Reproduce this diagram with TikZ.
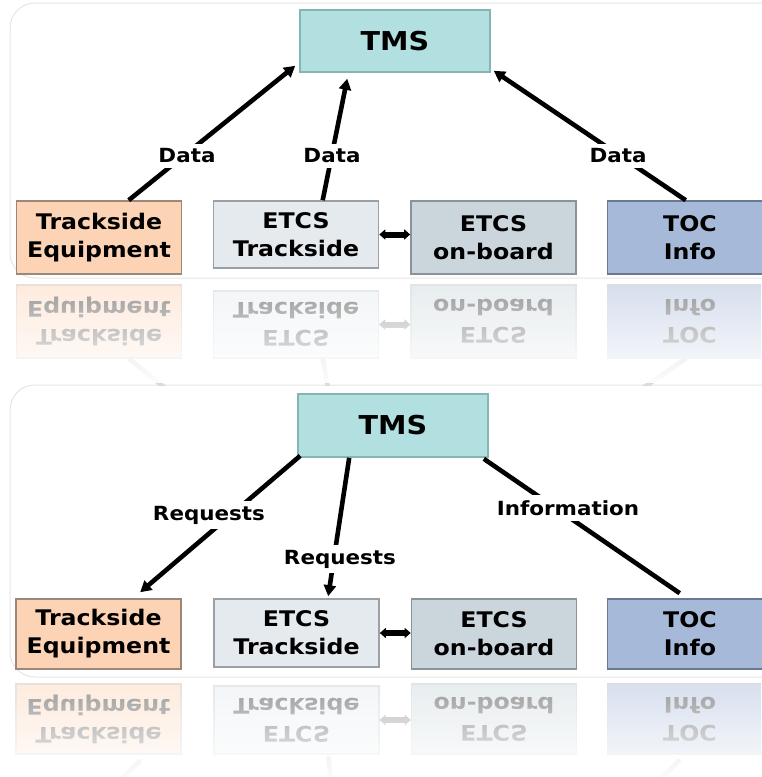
\documentclass[tikz,border=0pt]{standalone}
\usepackage{fontspec}
\newfontfamily\dvfont[FakeStretch=1.1]{DejaVu Sans}
\usetikzlibrary{arrows.meta,calc}
\definecolor{tmsfill}{HTML}{B2E0E0}
\definecolor{tmsdraw}{HTML}{86B5B5}
\definecolor{tefill}{HTML}{FCD3B4}
\definecolor{tedraw}{HTML}{9C8878}
\definecolor{etfill}{HTML}{E5EAEF}
\definecolor{etdraw}{HTML}{9AA0A5}
\definecolor{obfill}{HTML}{CBD6DC}
\definecolor{obdraw}{HTML}{8A9398}
\definecolor{tocfill}{HTML}{A6B9D9}
\definecolor{tocdraw}{HTML}{6C7890}
\definecolor{panelline}{HTML}{E6E6E6}
\begin{document}
\begin{tikzpicture}[x=1pt,y=-1pt,
  box/.style={draw, line width=1.6pt, inner sep=0pt, align=center,
    font=\dvfont\bfseries\fontsize{21.5}{28}\selectfont,
    minimum width=165pt, minimum height=73pt},
  tmsbox/.style={box, fill=tmsfill, draw=tmsdraw, minimum width=190pt, minimum height=62pt,
    font=\dvfont\bfseries\fontsize{26}{28}\selectfont},
  rbox/.style={box, yscale=-1, text=black!40, line width=1.2pt},
  lab/.style={fill=white, inner sep=5pt, font=\dvfont\bfseries\fontsize{19.5}{22}\selectfont},
  conn/.style={line width=4.6pt},
  rconn/.style={line width=4.6pt, draw=black!14},
  tip/.style={-{Triangle[length=11pt,width=12pt]}},
  dbl/.style={line width=6pt, {Triangle[length=6pt,width=10pt]}-{Triangle[length=6pt,width=10pt]}},
  rdbl/.style={dbl, draw=black!25, fill=black!25},
  panel/.style={draw=panelline, line width=1pt, fill=white, rounded corners=25pt}
]
\useasboundingbox (0,0) rectangle (761,777);
\fill[white] (0,0) rectangle (761,777);

% ---------------- panels
\path[panel] (10,3) rectangle (800,278);
\path[panel] (10,385) rectangle (800,677);

% ---------------- top panel
\node[tmsbox] (tms1) at (395,41) {TMS};
\node[box, fill=tefill, draw=tedraw] (te1) at (99,237.5) {Trackside\\Equipment};
\node[box, fill=etfill, draw=etdraw, minimum height=67pt] (et1) at (296,234.5) {ETCS\\Trackside};
\node[box, fill=obfill, draw=obdraw] (ob1) at (493.5,237.5) {ETCS\\on-board};
\node[box, fill=tocfill, draw=tocdraw] (toc1) at (690,237.5) {TOC\\Info};

\draw[conn,tip] ($(te1.north west)+(113,0)$) -- ($(tms1.south west)+(-4,-7)$);
\draw[conn,tip] ($(et1.north west)+(110,0)$) -- ($(tms1.south west)+(48,6)$);
\draw[conn,tip] ($(toc1.north west)+(79,0)$) -- ($(tms1.south east)+(3,-2)$);
\draw[dbl] (et1.east) -- (et1.east -| ob1.west);
\node[lab] (d1) at (187,156) {Data};
\node[lab] (d2) at (332,156) {Data};
\node[lab] (d3) at (618,156) {Data};

% ---------------- top reflection (axis y = 279.5)
\begin{scope}
\clip (0,281) rectangle (761,385);
\node[rbox, fill=tefill!45, draw=tedraw!25] (rte1) at (99,321.5) {Trackside\\Equipment};
\node[rbox, fill=etfill!45, draw=etdraw!25, minimum height=67pt] (ret1) at (296,324.5) {ETCS\\Trackside};
\node[rbox, fill=obfill!45, draw=obdraw!25] (rob1) at (493.5,321.5) {ETCS\\on-board};
\node[rbox, fill=tocfill!45, draw=tocdraw!25] (rtoc1) at (690,321.5) {TOC\\Info};
\draw[rdbl] (ret1.east) -- (ret1.east -| rob1.west);
\draw[rconn] ($(rte1.north west)+(113,0)$) -- ($(rte1.north west)+(166,43)$);
\draw[rconn] ($(ret1.north west)+(110,0)$) -- ($(ret1.north west)+(116,35)$);
\draw[rconn] ($(rtoc1.north west)+(79,0)$) -- ($(rtoc1.north west)+(28,35)$);
\end{scope}
\foreach \i in {0,...,49}
  \fill[white, opacity={min(1,\i/54)}] (0,{283+2*\i}) rectangle (761,{285+2*\i});

% ---------------- bottom panel
\node[tmsbox, minimum height=63pt] (tms2) at (393,425.5) {TMS};
\node[box, fill=tefill, draw=tedraw, minimum height=70pt] (te2) at (98.5,634) {Trackside\\Equipment};
\node[box, fill=etfill, draw=etdraw, minimum height=68pt] (et2) at (296.5,633) {ETCS\\Trackside};
\node[box, fill=obfill, draw=obdraw, minimum height=70pt] (ob2) at (494,634) {ETCS\\on-board};
\node[box, fill=tocfill, draw=tocdraw, minimum height=70pt] (toc2) at (690,634) {TOC\\Info};

\draw[conn,tip] ($(tms2.south west)+(3,-2)$) -- ($(te2.north west)+(125,-6)$);
\draw[conn,tip] ($(tms2.south west)+(52,0)$) -- ($(et2.north west)+(115,-2)$);
\draw[conn] ($(tms2.south east)+(-5,1)$) -- ($(toc2.north west)+(73,-5)$);
\draw[dbl] (et2.east) -- (et2.east -| ob2.west);
\node[lab] (r1) at (209,515) {Requests};
\node[lab] (r2) at (340,559) {Requests};
\node[lab] (inf) at (568,508) {Information};

% ---------------- bottom reflection (axis y = 676.5)
\begin{scope}
\clip (0,678) rectangle (761,777);
\node[rbox, fill=tefill!45, draw=tedraw!25, minimum height=70pt] (rte2) at (98.5,719) {Trackside\\Equipment};
\node[rbox, fill=etfill!45, draw=etdraw!25, minimum height=68pt] (ret2) at (296.5,720) {ETCS\\Trackside};
\node[rbox, fill=obfill!45, draw=obdraw!25, minimum height=70pt] (rob2) at (494,719) {ETCS\\on-board};
\node[rbox, fill=tocfill!45, draw=tocdraw!25, minimum height=70pt] (rtoc2) at (690,719) {TOC\\Info};
\draw[rdbl] (ret2.east) -- (ret2.east -| rob2.west);
\draw[rconn] ($(rte2.north west)+(125,6)$) -- ($(rte2.north west)+(100,30)$);
\draw[rconn] ($(ret2.north west)+(115,2)$) -- ($(ret2.north west)+(118,30)$);
\draw[rconn] ($(rtoc2.north west)+(73,5)$) -- ($(rtoc2.north west)+(48,30)$);
\end{scope}
\foreach \i in {0,...,49}
  \fill[white, opacity={min(1,\i/54)}] (0,{680+2*\i}) rectangle (761,{682+2*\i});
\end{tikzpicture}
\end{document}
